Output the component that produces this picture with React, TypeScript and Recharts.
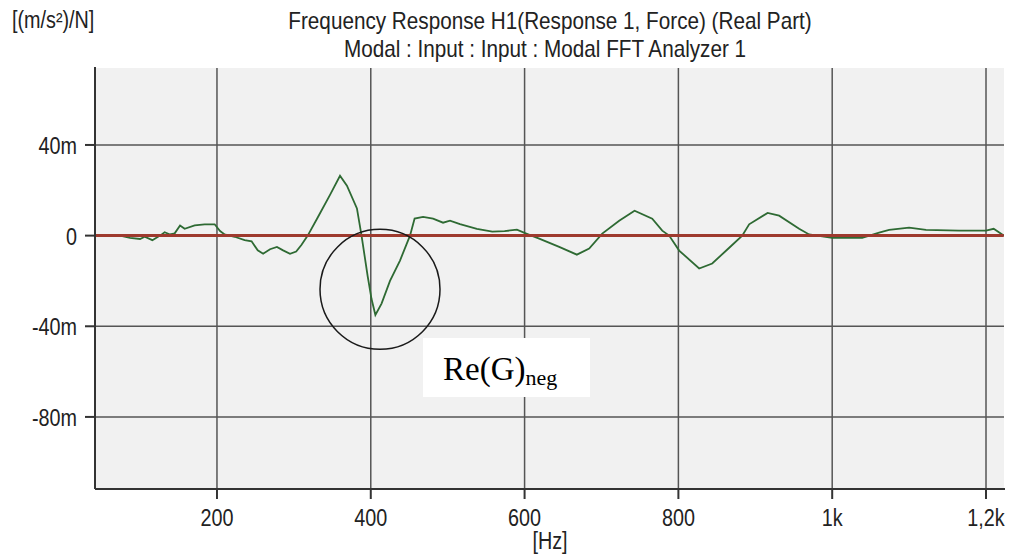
import React from "react";
import {
  LineChart,
  Line,
  XAxis,
  YAxis,
  CartesianGrid,
  ReferenceDot,
  ReferenceLine,
} from "recharts";

const freqHz = [
  42, 61, 74, 87, 100, 106, 116, 126, 132, 139, 145, 152, 158, 171, 184, 197,
  204, 210, 223, 236, 245, 253, 260, 269, 278, 286, 295, 303, 310, 318, 331,
  347, 360, 369, 382, 388, 396, 401, 406, 414, 425, 438, 451, 457, 468, 481,
  494, 503, 516, 538, 558, 574, 590, 603, 619, 645, 668, 684, 701, 723, 743,
  766, 779, 788, 801, 827, 844, 864, 883, 892, 916, 931, 957, 970, 1000, 1039,
  1061, 1074, 1100, 1122, 1165, 1200, 1210, 1223,
];
const realPart = [
  0, 0.3, 0, -1, -1.5, -0.5, -2, 0, 1.5, 0.5, 1, 4.5, 3, 4.5, 5, 5, 2, 0.5,
  -0.5, -2, -2.5, -6.5, -8, -6, -5, -6.5, -8, -7, -4, 0, 8, 18, 26.4, 22, 12, 0,
  -18, -28, -35, -30, -20, -11, 0, 7.5, 8.3, 7.5, 5.7, 6.6, 5.1, 3, 1.8, 2,
  2.6, 0.8, -1.3, -5, -8.4, -5.7, 0.9, 6.6, 11, 7.5, 2.2, 0, -6.6, -14.5,
  -12.3, -6, 0, 5, 10, 8.8, 3, 0.5, -1, -1, 1.3, 2.5, 3.5, 2.5, 2.2, 2.2, 3, 0,
];

// zero reference line
const refFreqs = [42, 1223];
const refValues = [0, 0];

const xTicks = [200, 400, 600, 800, 1000, 1200];
const xTickLabels = ["200", "400", "600", "800", "1k", "1,2k"];
const yTicks = [-80, -40, 0, 40];
const yTickLabels = ["-80m", "-40m", "0", "40m"];

const xDomain = [41.4, 1224.7];
const yDomain = [-111.8, 74.4];

// circled region (negative real part dip)
const circleFreq = 412;
const circleValue = -23.7;

const data = freqHz.map((f, i) => ({ f, re: realPart[i] }));
const refData = refFreqs.map((f, i) => ({ f, zero: refValues[i] }));

const FONT = "'Liberation Sans', Arial, sans-serif";
const GRID = "#555";

function T({ x, y, anchor = "start", size = 23, sx = 0.86, children }: any) {
  return (
    <text
      transform={`translate(${x},${y}) scale(${sx},1)`}
      textAnchor={anchor}
      fontSize={size}
      fontFamily={FONT}
      fill="#222"
    >
      {children}
    </text>
  );
}

function XTick(props: any) {
  const { x, y, payload } = props;
  const idx = xTicks.indexOf(payload.value);
  return (
    <T x={x} y={y + 25} anchor="middle">
      {xTickLabels[idx]}
    </T>
  );
}

function YTick(props: any) {
  const { x, y, payload } = props;
  const idx = yTicks.indexOf(payload.value);
  return (
    <T x={x - 6} y={y + 9} anchor="end">
      {yTickLabels[idx]}
    </T>
  );
}

export default function App() {
  return (
    <div
      style={{
        position: "absolute",
        left: 0,
        top: 0,
        width: 1022,
        height: 556,
        background: "#fff",
      }}
    >
      <LineChart
        width={1022}
        height={556}
        margin={{ top: 67, right: 17, left: 0, bottom: 0 }}
      >
        <CartesianGrid fill="#f1f1f1" horizontal={false} vertical={false} />
        {xTicks.map((t) => (
          <ReferenceLine key={"vx" + t} x={t} stroke={GRID} strokeWidth={1.5} />
        ))}
        {yTicks.map((t) => (
          <ReferenceLine key={"hy" + t} y={t} stroke={GRID} strokeWidth={1.5} />
        ))}
        <XAxis
          dataKey="f"
          type="number"
          domain={xDomain}
          ticks={xTicks}
          height={67}
          tickSize={10}
          tick={<XTick />}
          axisLine={{ stroke: "#333", strokeWidth: 2 }}
          tickLine={{ stroke: "#333", strokeWidth: 2 }}
          allowDataOverflow
        />
        <YAxis
          type="number"
          domain={yDomain}
          ticks={yTicks}
          width={95}
          tickSize={10}
          tick={<YTick />}
          axisLine={{ stroke: "#333", strokeWidth: 2 }}
          tickLine={{ stroke: "#333", strokeWidth: 2 }}
          allowDataOverflow
        />
        <Line
          data={data}
          dataKey="re"
          type="linear"
          stroke="#2e6a33"
          strokeWidth={1.8}
          dot={false}
          isAnimationActive={false}
        />
        <Line
          data={refData}
          dataKey="zero"
          type="linear"
          stroke="#9e3a2e"
          strokeWidth={3}
          dot={false}
          isAnimationActive={false}
        />
        <ReferenceDot
          x={circleFreq}
          y={circleValue}
          r={60}
          fill="none"
          stroke="#1a1a1a"
          strokeWidth={1.5}
        />
      </LineChart>
      <svg
        width={1022}
        height={556}
        style={{ position: "absolute", left: 0, top: 0, pointerEvents: "none" }}
      >
        {/* open frame: no border on top / right of the plot */}
        <rect x={96} y={65} width={912} height={3} fill="#fff" />
        <rect x={1004} y={65} width={4} height={423} fill="#fff" />
        <T x={12} y={28}>
          [(m/s²)/N]
        </T>
        <T x={550} y={29} anchor="middle" sx={0.9}>
          Frequency Response H1(Response 1, Force) (Real Part)
        </T>
        <T x={545} y={57} anchor="middle" sx={0.9}>
          Modal : Input : Input : Modal FFT Analyzer 1
        </T>
        <T x={550} y={549} anchor="middle">
          [Hz]
        </T>
        <rect x={423} y={338} width={167} height={59} fill="#fff" />
        <text
          x={443}
          y={380}
          fontSize={33}
          fontFamily="'Liberation Serif', 'Times New Roman', serif"
          fill="#000"
        >
          Re(G)
          <tspan fontSize={22} dy={5}>
            neg
          </tspan>
        </text>
      </svg>
    </div>
  );
}
